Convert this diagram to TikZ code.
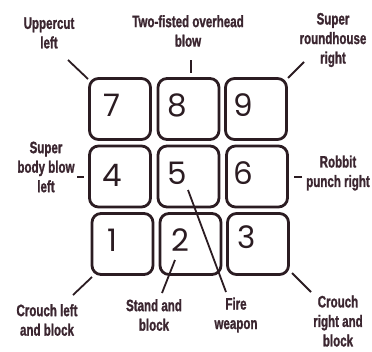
\documentclass[tikz,border=0pt]{standalone}
\usepackage{fontspec}
\newfontfamily\labfont[FakeStretch=0.7,FakeBold=1.2]{Liberation Sans}
\newfontfamily\digfont{Poppins}
\definecolor{ink}{HTML}{2B1C22}
\definecolor{txt}{HTML}{3B2630}
\begin{document}
\begin{tikzpicture}[x=1pt,y=-1pt,
  keybox/.style={draw=ink,line width=2.8pt,rounded corners=9pt,minimum width=61pt,minimum height=61pt,inner sep=0pt},
  digit/.style={text=ink,font=\digfont\fontsize{31}{31}\selectfont,inner sep=0pt},
  lab/.style={text=txt,font=\labfont\bfseries\fontsize{16.5}{19.5}\selectfont,align=center,inner sep=0pt},
  conn/.style={draw=ink,line width=1.8pt}]
\useasboundingbox[fill=white] (0,0) rectangle (372,351);
% keys
\node[keybox] (k7) at (120,109) {};
\node[keybox] (k8) at (188.5,109) {};
\node[keybox] (k9) at (256,109) {};
\node[keybox] (k4) at (120,176.5) {};
\node[keybox] (k5) at (188.5,176.5) {};
\node[keybox] (k6) at (257,176.5) {};
\node[keybox] (k1) at (122.5,244) {};
\node[keybox] (k2) at (190.5,244) {};
\node[keybox] (k3) at (258,244) {};
% digits
\node[digit] (d7) at (112,105) {7};
\node[digit] (d8) at (177,105) {8};
\node[digit] (d9) at (243,105) {9};
\node[digit] (d4) at (112,175) {4};
\node[digit] (d5) at (177,173) {5};
\node[digit] (d6) at (243,173) {6};
\node[digit] (d1) at (112,240) {1};
\node[digit] (d2) at (180,240) {2};
\node[digit] (d3) at (247,237) {3};
% labels
\node[lab] (l7) at (49,33) {Uppercut\\left};
\node[lab] (l8) at (188,31) {Two-fisted overhead\\blow};
\node[lab] (l9) at (333,40) {Super\\roundhouse\\right};
\node[lab] (l4) at (46,167) {Super\\body blow\\left};
\node[lab] (l6) at (338,173) {Robbit\\punch right};
\node[lab] (l1) at (47,320) {Crouch left\\and block};
\node[lab] (l2) at (154,315) {Stand and\\block};
\node[lab] (l5) at (236,315) {Fire\\weapon};
\node[lab] (l3) at (338,321) {Crouch\\right and\\block};
% connector ends
\coordinate (a7) at (68,60);   \coordinate (b7) at (88,79);
\coordinate (a8) at (191,60);  \coordinate (b8) at (191,73);
\coordinate (a9) at (304,62);  \coordinate (b9) at (288,78);
\coordinate (a4) at (77,177);  \coordinate (b4) at (84,177);
\coordinate (a6) at (302,177); \coordinate (b6) at (294,177);
\coordinate (a1) at (73,295);  \coordinate (b1) at (92,277);
\coordinate (a2) at (162,293); \coordinate (b2) at (175,260);
\coordinate (a5) at (226,292); \coordinate (b5) at (188,190);
\coordinate (a3) at (311,292); \coordinate (b3) at (292,273);
\foreach \i in {7,8,9,4,6,1,2,5,3} {\draw[conn] (a\i) -- (b\i);}
\end{tikzpicture}
\end{document}
